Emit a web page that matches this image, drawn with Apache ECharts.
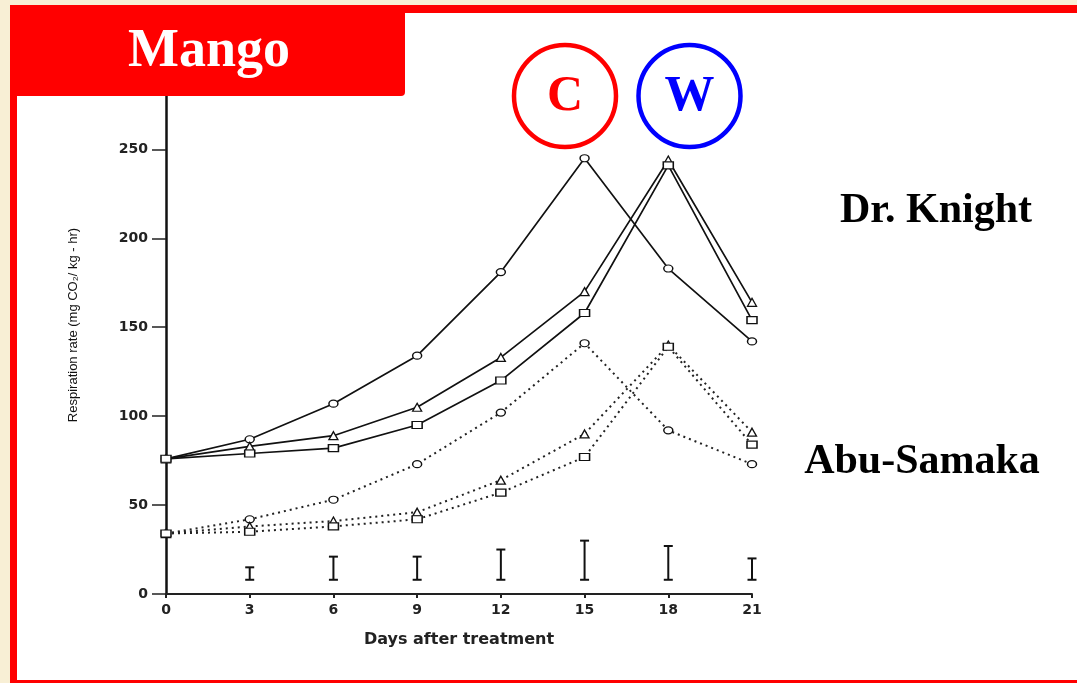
<!DOCTYPE html>
<html>
<head>
<meta charset="utf-8">
<style>
html,body{margin:0;padding:0;background:#f8efd5;}
#chart{width:1077px;height:683px;}
</style>
<script src="https://cdn.jsdelivr.net/npm/echarts@6/dist/echarts.min.js"></script>
</head>
<body>
<div id="chart"></div>
<script>
// ---- data ----
const days = [0, 3, 6, 9, 12, 15, 18, 21];
const knightCircle   = [76, 87, 107, 134, 181, 245, 183, 142];
const knightTriangle = [76, 83, 89, 105, 133, 170, 244, 164];
const knightSquare   = [76, 79, 82, 95, 120, 158, 241, 154];
const abuCircle      = [34, 42, 53, 73, 102, 141, 92, 73];
const abuTriangle    = [34, 38, 41, 46, 64, 90, 140, 91];
const abuSquare      = [34, 35, 38, 42, 57, 77, 139, 84];
const errDays = [3, 6, 9, 12, 15, 18, 21];
const errLow  = [8, 8, 8, 8, 8, 8, 8];
const errHigh = [15, 21, 21, 25, 30, 27, 20];
const yTicks = [0, 50, 100, 150, 200, 250];
const xTicks = [0, 3, 6, 9, 12, 15, 18, 21];

const pairs = (ys) => days.map((d, i) => [d, ys[i]]);

function lineSeries(name, ys, symbol, size, dotted) {
  return {
    name: name,
    type: 'line',
    data: pairs(ys),
    symbol: symbol,
    symbolSize: size,
    showAllSymbol: true,
    z: 3,
    lineStyle: dotted
      ? { color: '#222', width: 2, type: [2, 4] }
      : { color: '#111', width: 1.7, type: 'solid' },
    itemStyle: { color: '#fff', borderColor: '#111', borderWidth: 1.3 },
    emphasis: { disabled: true }
  };
}

const chart = echarts.init(document.getElementById('chart'));
const serifBold = 'bold {s}px "Liberation Serif", "Times New Roman", serif';
const f = (s) => serifBold.replace('{s}', s);

chart.setOption({
  backgroundColor: '#f8efd5',
  animation: false,
  graphic: [
    { type: 'rect', z: -10, shape: { x: 10, y: 5, width: 1067, height: 678 }, style: { fill: '#ff0000' } },
    { type: 'rect', z: -9, shape: { x: 17, y: 13, width: 1060, height: 667 }, style: { fill: '#ffffff' } },
    { type: 'rect', z: 100, shape: { x: 10, y: 5, width: 395, height: 91, r: [0, 0, 4, 0] }, style: { fill: '#ff0000' } },
    { type: 'text', z: 101, x: 209, y: 52, style: { text: 'Mango', fill: '#ffffff', font: f(54), align: 'center', verticalAlign: 'middle' } },
    { type: 'circle', z: 100, shape: { cx: 565, cy: 96, r: 51 }, style: { fill: 'none', stroke: '#ff0000', lineWidth: 4.5 } },
    { type: 'text', z: 101, x: 565, y: 97, style: { text: 'C', fill: '#ff0000', font: f(50), align: 'center', verticalAlign: 'middle' } },
    { type: 'circle', z: 100, shape: { cx: 689.5, cy: 96, r: 51 }, style: { fill: 'none', stroke: '#0000ff', lineWidth: 4.5 } },
    { type: 'text', z: 101, x: 689.5, y: 97, style: { text: 'W', fill: '#0000ff', font: f(50), align: 'center', verticalAlign: 'middle' } },
    { type: 'text', z: 101, x: 936, y: 211, style: { text: 'Dr. Knight', fill: '#000000', font: f(42), align: 'center', verticalAlign: 'middle' } },
    { type: 'text', z: 101, x: 922, y: 462, style: { text: 'Abu-Samaka', fill: '#000000', font: f(42), align: 'center', verticalAlign: 'middle' } }
  ],
  grid: { left: 166, right: 325, top: 96, bottom: 89, containLabel: false },
  xAxis: {
    type: 'value',
    min: 0, max: 21, interval: 3,
    name: 'Days after treatment',
    nameLocation: 'middle',
    nameGap: 38,
    nameTextStyle: { fontFamily: '"DejaVu Sans", sans-serif', fontWeight: 'bold', fontSize: 16, color: '#222' },
    axisLine: { show: true, onZero: false, lineStyle: { color: '#222', width: 2 } },
    axisTick: { show: true, length: 4, lineStyle: { color: '#222', width: 2 } },
    axisLabel: { fontFamily: '"DejaVu Sans", sans-serif', fontWeight: 'bold', fontSize: 14, color: '#222', margin: 9,
                 customValues: xTicks },
    splitLine: { show: false }
  },
  yAxis: {
    type: 'value',
    min: 0, max: 280,
    name: 'Respiration rate (mg CO\u2082/ kg - hr)',
    nameLocation: 'middle',
    nameGap: 86,
    nameRotate: 90,
    nameTextStyle: { fontFamily: '"Liberation Sans Narrow", "Liberation Sans", sans-serif', fontSize: 13, color: '#111',
                     padding: [0, 0, 0, 40] },
    axisLine: { show: true, onZero: false, lineStyle: { color: '#111', width: 2.5 } },
    axisTick: { show: true, length: 14, customValues: yTicks, lineStyle: { color: '#222', width: 1.5 } },
    axisLabel: { fontFamily: '"DejaVu Sans", sans-serif', fontWeight: 'bold', fontSize: 14, color: '#222', margin: 18,
                 customValues: yTicks },
    splitLine: { show: false }
  },
  series: [
    lineSeries('Dr. Knight – control', knightCircle, 'circle', [9, 7], false),
    lineSeries('Dr. Knight – wax 1', knightTriangle, 'triangle', [9, 8], false),
    lineSeries('Dr. Knight – wax 2', knightSquare, 'rect', [10, 7], false),
    lineSeries('Abu-Samaka – control', abuCircle, 'circle', [9, 7], true),
    lineSeries('Abu-Samaka – wax 1', abuTriangle, 'triangle', [9, 8], true),
    lineSeries('Abu-Samaka – wax 2', abuSquare, 'rect', [10, 7], true),
    {
      name: 'LSD',
      type: 'custom',
      data: errDays.map((d, i) => [d, errLow[i], errHigh[i]]),
      renderItem: function (params, api) {
        const lo = api.coord([api.value(0), api.value(1)]);
        const hi = api.coord([api.value(0), api.value(2)]);
        const hw = 4.5;
        const st = { stroke: '#111', lineWidth: 2 };
        return {
          type: 'group',
          children: [
            { type: 'line', shape: { x1: lo[0], y1: lo[1], x2: hi[0], y2: hi[1] }, style: st },
            { type: 'line', shape: { x1: lo[0] - hw, y1: lo[1], x2: lo[0] + hw, y2: lo[1] }, style: st },
            { type: 'line', shape: { x1: hi[0] - hw, y1: hi[1], x2: hi[0] + hw, y2: hi[1] }, style: st }
          ]
        };
      },
      z: 3
    }
  ]
});
</script>
</body>
</html>
